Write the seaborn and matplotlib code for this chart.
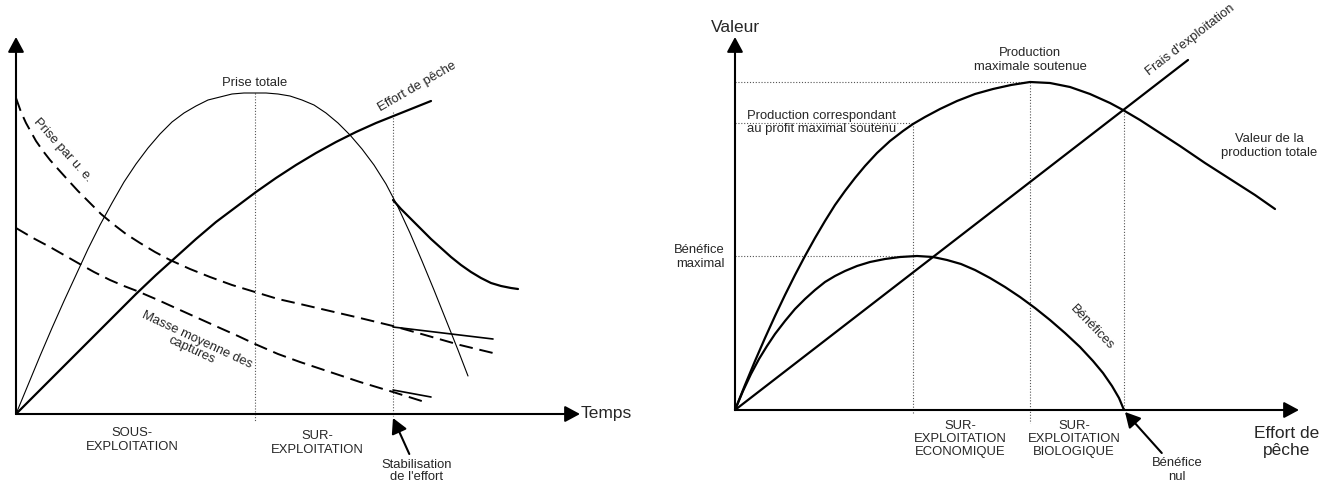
import matplotlib
matplotlib.use("Agg")
import matplotlib.pyplot as plt
import seaborn as sns

# ---- left panel: evolution of a fishery over time (units: px from origin)
effort_t = [0, 20, 40, 60, 80, 100, 120, 140, 160, 180, 200, 220, 240, 260, 280, 300,
            320, 340, 360, 380, 400, 415]
effort_v = [0, 20, 40, 60, 80, 100, 120, 139, 157, 175, 192, 207, 222, 236, 249, 261,
            272, 282, 291, 299, 307, 313]

effort_stab_t = [377, 385, 395, 405, 415, 425, 435, 445, 455, 465, 475, 485, 495, 502]
effort_stab_v = [214, 205, 195, 185, 175, 166, 157, 149, 142, 136, 131, 128, 126, 125]

prise_totale_t = [0, 12, 24, 36, 48, 60, 72, 84, 96, 108, 120, 132, 144, 156, 168, 180,
                  192, 204, 216, 228, 239, 250, 262, 274, 286, 298, 310, 322, 334, 346,
                  358, 370, 382, 394, 406, 418, 430, 442, 452]
prise_totale_v = [0, 29, 58, 86, 113, 139, 165, 189, 211, 232, 250, 266, 280, 292, 301,
                  308, 314, 317, 320, 321, 321, 321, 320, 318, 314, 309, 301, 291, 279,
                  265, 249, 230, 207, 181, 153, 124, 94, 64, 38]

cpue_t = [0, 5, 10, 15, 20, 27, 34, 42, 51, 62, 74, 85, 97, 110, 124, 139, 154, 174,
          194, 216, 239, 262, 284, 314, 344, 377, 409, 444, 477]
cpue_v = [316, 302, 291, 282, 273, 263, 254, 245, 235, 223, 211, 200, 190, 180, 171,
          162, 154, 145, 137, 129, 122, 115, 110, 103, 96, 88, 79, 69, 61]
cpue_stab_t = [377, 477]
cpue_stab_v = [87, 75]

masse_t = [0, 17, 34, 48, 62, 78, 94, 108, 121, 142, 164, 184, 204, 222, 239, 262, 284,
           314, 344, 377, 412]
masse_v = [186, 176, 167, 159, 151, 142, 134, 128, 123, 114, 104, 95, 86, 78, 70, 60,
           52, 42, 32, 22, 11]
masse_stab_t = [377, 415]
masse_stab_v = [24, 17]

t_peak = 239
t_stab = 377

# ---- right panel: bio-economic model (units: px from origin)
valeur_e = [0, 10, 20, 30, 40, 50, 60, 70, 80, 90, 100, 110, 120, 130, 142, 155, 168,
            178, 190, 205, 222, 240, 258, 276, 295, 315, 335, 355, 375, 388, 405, 425,
            445, 470, 495, 520, 540]
valeur_v = [0, 25, 49, 72, 94, 115, 135, 154, 172, 189, 205, 219, 232, 244, 257, 269,
            279, 286, 293, 301, 309, 316, 321, 325, 328, 327, 323, 316, 307, 300, 290,
            277, 264, 247, 231, 215, 201]

frais_e = [0, 453]
frais_v = [0, 350]

benef_e = [0, 8, 16, 24, 32, 40, 50, 60, 70, 80, 90, 100, 110, 122, 135, 150, 165, 182,
           198, 212, 226, 240, 255, 270, 285, 300, 315, 330, 345, 358, 368, 377, 384, 389]
benef_v = [0, 19, 36, 51, 64, 76, 89, 101, 111, 120, 128, 134, 139, 144, 148, 151, 153,
           154, 153, 150, 146, 140, 132, 123, 113, 102, 90, 77, 63, 49, 37, 24, 12, 0]

e_pmes = 178      # production au profit maximal soutenu
v_pmes = 287
e_pms = 295       # production maximale soutenue
v_pms = 328
e_nul = 389       # benefice nul
v_bmax = 154
e_bmax = 182

sns.set_style("white")
plt.rcParams["font.family"] = ["Liberation Sans", "DejaVu Sans"]

fig = plt.figure(figsize=(13.22, 4.86), dpi=100)
axL = fig.add_axes([0, 0, 0.5, 1])
axR = fig.add_axes([0.5, 0, 0.5, 1])
axL.set_xlim(-16, 645)
axL.set_ylim(-72, 414)
axR.set_xlim(-74, 587)
axR.set_ylim(-76, 410)
for ax in (axL, axR):
    ax.axis("off")

K = "black"
DASH = (0, (7, 3.5))
DOT = (0, (1, 1.6))
small = 9.4
big = 12.5
head = "-|>,head_length=0.65,head_width=0.35"


def axis_arrow(ax, x, y):
    ax.annotate("", xy=(x, y), xytext=(0, 0),
                arrowprops=dict(arrowstyle=head, lw=1.5, color=K,
                                mutation_scale=14, shrinkA=0, shrinkB=0))


def line(ax, x, y, **kw):
    sns.lineplot(x=x, y=y, ax=ax, sort=False, estimator=None, color=K, **kw)


# left panel
axis_arrow(axL, 0, 377)
axis_arrow(axL, 564, 0)
axL.plot([t_peak, t_peak], [321, -8], color="#555555", lw=0.8, linestyle=DOT)
axL.plot([t_stab, t_stab], [302, -2], color="#555555", lw=0.8, linestyle=DOT)

line(axL, prise_totale_t, prise_totale_v, lw=0.8)
line(axL, effort_t, effort_v, lw=1.6)
line(axL, effort_stab_t, effort_stab_v, lw=1.6)
line(axL, cpue_t, cpue_v, lw=1.4, linestyle=DASH)
line(axL, masse_t, masse_v, lw=1.4, linestyle=DASH)
line(axL, cpue_stab_t, cpue_stab_v, lw=1.2)
line(axL, masse_stab_t, masse_stab_v, lw=1.2)

axL.text(239, 331, "Prise totale", fontsize=small, ha="center", va="center")
axL.text(401, 327, "Effort de pêche", fontsize=small, ha="center", va="center",
         rotation=30, rotation_mode="anchor")
axL.text(47, 264, "Prise par u. e.", fontsize=small, ha="center", va="center",
         rotation=-48, rotation_mode="anchor")
axL.text(178, 69, "Masse moyenne des\ncaptures", fontsize=small, ha="center",
         va="center", rotation=-25, rotation_mode="anchor", linespacing=1.0)
axL.text(116, -26, "SOUS-\nEXPLOITATION", fontsize=small, ha="center", va="center",
         linespacing=1.15)
axL.text(301, -29, "SUR-\nEXPLOITATION", fontsize=small, ha="center", va="center",
         linespacing=1.15)
axL.text(565, 1, "Temps", fontsize=big, ha="left", va="center")
axL.annotate("Stabilisation\nde l'effort", xy=(t_stab, -4), xytext=(401, -57),
             fontsize=small, ha="center", va="center", linespacing=1.1,
             arrowprops=dict(arrowstyle=head, lw=1.5, color=K, mutation_scale=14,
                             shrinkA=1, shrinkB=0))

# right panel
axis_arrow(axR, 0, 373)
axis_arrow(axR, 564, 0)
dot = dict(color="#555555", lw=0.8, linestyle=DOT)
axR.plot([0, e_pms], [v_pms, v_pms], **dot)
axR.plot([e_pms, e_pms], [v_pms, -13], **dot)
axR.plot([0, e_pmes], [v_pmes, v_pmes], **dot)
axR.plot([e_pmes, e_pmes], [v_pmes, -3], **dot)
axR.plot([0, e_bmax], [v_bmax, v_bmax], **dot)
axR.plot([e_nul, e_nul], [300, 0], **dot)

line(axR, valeur_e, valeur_v, lw=1.6)
line(axR, frais_e, frais_v, lw=1.6)
line(axR, benef_e, benef_v, lw=1.6)

axR.text(0, 382, "Valeur", fontsize=big, ha="center", va="center")
axR.text(552, -32, "Effort de\npêche", fontsize=big, ha="center", va="center",
         linespacing=1.1)
axR.text(12, 287.5, "Production correspondant\nau profit maximal soutenu",
         fontsize=small, ha="left", va="center", linespacing=1.15)
axR.text(295, 350, "Production\nmaximale soutenue", fontsize=small, ha="center",
         va="center", linespacing=1.15)
axR.text(455, 370, "Frais d'exploitation", fontsize=small, ha="center", va="center",
         rotation=37.7, rotation_mode="anchor")
axR.text(534, 264, "Valeur de la\nproduction totale", fontsize=small, ha="center",
         va="center", linespacing=1.2)
axR.text(-10, 153, "Bénéfice\nmaximal", fontsize=small, ha="right", va="center",
         linespacing=1.15)
axR.text(357, 82, "Bénéfices", fontsize=small, ha="center", va="center",
         rotation=-46, rotation_mode="anchor")
axR.text(225, -29, "SUR-\nEXPLOITATION\nECONOMIQUE", fontsize=small, ha="center",
         va="center", linespacing=1.15)
axR.text(339, -29, "SUR-\nEXPLOITATION\nBIOLOGIQUE", fontsize=small, ha="center",
         va="center", linespacing=1.15)
axR.annotate("Bénéfice\nnul", xy=(e_nul + 1, -2), xytext=(442, -60),
             fontsize=small, ha="center", va="center", linespacing=1.15,
             arrowprops=dict(arrowstyle=head, lw=1.5, color=K, mutation_scale=14,
                             shrinkA=1, shrinkB=0))

fig.savefig("out.png", dpi=100)
